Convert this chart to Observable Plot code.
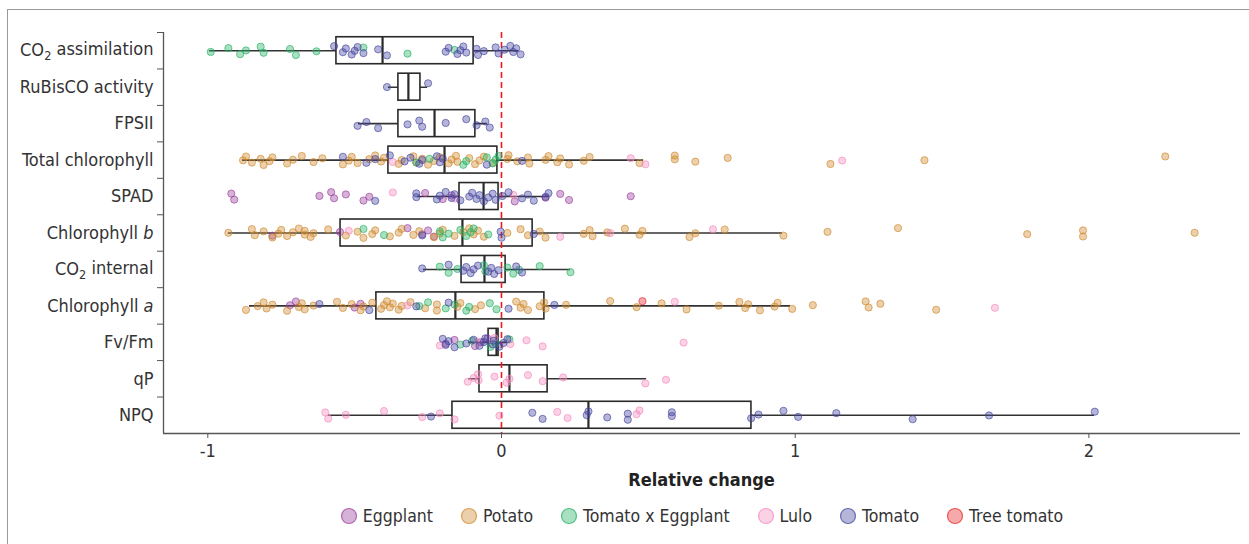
<!DOCTYPE html>
<html><head><meta charset="utf-8">
<script src="https://cdn.jsdelivr.net/npm/d3@7"></script>
<script src="https://cdn.jsdelivr.net/npm/@observablehq/plot@0.6"></script>
<style>
body{margin:0;background:#fff;font-family:"Liberation Sans Narrow","DejaVu Sans Condensed","Roboto",sans-serif;color:#333;}
#frame{position:absolute;left:7px;top:9px;width:1300px;height:600px;border-left:1.5px solid #9a9a9a;border-top:1.5px solid #9a9a9a;}
#chart{position:absolute;left:0;top:0;}
#xlabel{position:absolute;left:163px;width:1077px;top:469px;text-align:center;font-weight:bold;font-size:18px;color:#222;}
#legend{position:absolute;left:163px;width:1077px;top:506px;display:flex;justify-content:center;gap:27px;font-size:17.5px;color:#333;}
.item{display:flex;align-items:center;}
.item svg{margin-right:5px;}
</style></head><body>
<div id="frame"></div>
<div id="chart"></div>
<div id="xlabel">Relative change</div>
<div id="legend"></div>
<script>
const categories = ["CO2 assimilation","RuBisCO activity","FPSII","Total chlorophyll","SPAD","Chlorophyll b","CO2 internal","Chlorophyll a","Fv/Fm","qP","NPQ"];
const species = ["Eggplant","Potato","Tomato x Eggplant","Lulo","Tomato","Tree tomato"];
const speciesColors = ["#9b3f9e","#d0892c","#25b265","#f48bbf","#45459f","#e8282c"];

const co2Assimilation = {
  "Tomato x Eggplant": [-0.99,-0.93,-0.89,-0.87,-0.82,-0.81,-0.72,-0.70,-0.63,-0.47,-0.32,-0.16],
  "Tomato": [-0.57,-0.54,-0.53,-0.51,-0.50,-0.49,-0.47,-0.42,-0.39,-0.19,-0.18,-0.15,-0.14,-0.13,-0.12,-0.085,-0.08,-0.06,-0.02,-0.01,0.01,0.03,0.04,0.05,0.065]
};
const rubiscoActivity = { "Tomato": [-0.39,-0.25] };
const fpsii = { "Tomato": [-0.49,-0.46,-0.42,-0.32,-0.28,-0.27,-0.19,-0.12,-0.085,-0.055,-0.04] };
const totalChlorophyll = {
  "Potato": [-0.88,-0.87,-0.85,-0.82,-0.81,-0.79,-0.78,-0.73,-0.71,-0.68,-0.64,-0.61,-0.54,-0.52,-0.51,-0.49,-0.45,-0.43,-0.41,-0.40,-0.35,-0.34,-0.30,-0.29,-0.27,-0.25,-0.23,-0.21,-0.18,-0.17,-0.155,-0.15,-0.11,-0.09,-0.075,-0.06,-0.03,0.02,0.024,0.054,0.09,0.095,0.15,0.16,0.19,0.20,0.23,0.28,0.30,0.47,0.59,0.59,0.66,0.77,1.12,1.44,2.26],
  "Tomato": [-0.54,-0.46,-0.43,-0.38,-0.33,-0.31,-0.28,-0.27,-0.22,-0.21,-0.20,-0.05,0.07],
  "Tomato x Eggplant": [-0.29,-0.245,-0.13,-0.12,-0.05,-0.03,-0.02,-0.01],
  "Lulo": [-0.37,0.44,0.49,1.16]
};
const spad = {
  "Eggplant": [-0.92,-0.91,-0.62,-0.58,-0.57,-0.53,-0.47,-0.45,-0.26,-0.20,-0.17,0.045,0.15,0.20,0.23,0.44],
  "Tomato": [-0.43,-0.29,-0.29,-0.22,-0.21,-0.19,-0.17,-0.16,-0.14,-0.11,-0.10,-0.085,-0.075,-0.06,-0.045,-0.03,-0.02,0.003,0.024,0.07,0.09,0.11,0.15,0.16],
  "Lulo": [-0.37,-0.16,0.04]
};
const chlorophyllB = {
  "Potato": [-0.93,-0.85,-0.84,-0.81,-0.78,-0.76,-0.75,-0.73,-0.71,-0.69,-0.67,-0.67,-0.65,-0.64,-0.59,-0.53,-0.49,-0.47,-0.44,-0.43,-0.38,-0.35,-0.34,-0.30,-0.28,-0.23,-0.21,-0.20,-0.16,-0.13,-0.11,-0.095,-0.08,-0.06,0.02,0.065,0.09,0.13,0.15,0.28,0.30,0.31,0.36,0.42,0.47,0.48,0.64,0.66,0.76,0.96,1.11,1.35,1.79,1.98,1.98,2.36],
  "Eggplant": [-0.78,-0.55,-0.32,-0.27,-0.25,-0.23],
  "Lulo": [-0.52,0.20,0.37,0.72],
  "Tomato x Eggplant": [-0.47,-0.40,-0.21,-0.20,-0.18,-0.14,-0.12,-0.105,-0.095,-0.045],
  "Tomato": [-0.27,-0.003,0.0,0.11]
};
const co2Internal = {
  "Tomato": [-0.27,-0.18,-0.13,-0.12,-0.105,-0.095,-0.08,-0.045,-0.035,-0.025,-0.01,0.05,0.07],
  "Tomato x Eggplant": [-0.21,-0.18,-0.15,-0.06,-0.055,0.02,0.04,0.06,0.13,0.235]
};
const chlorophyllA = {
  "Potato": [-0.87,-0.83,-0.81,-0.80,-0.78,-0.73,-0.69,-0.68,-0.67,-0.64,-0.56,-0.54,-0.51,-0.48,-0.47,-0.44,-0.41,-0.40,-0.39,-0.38,-0.37,-0.35,-0.34,-0.31,-0.26,-0.22,-0.22,-0.15,-0.14,-0.09,-0.07,0.05,0.065,0.075,0.09,0.13,0.145,0.15,0.22,0.37,0.46,0.545,0.63,0.74,0.81,0.83,0.84,0.88,0.93,0.94,0.99,1.06,1.24,1.25,1.29,1.48],
  "Eggplant": [-0.72,-0.70,-0.50,-0.48],
  "Tomato": [-0.62,-0.45,-0.29,-0.18,0.024,0.18],
  "Lulo": [-0.32,0.59,1.68],
  "Tomato x Eggplant": [-0.28,-0.25,-0.19,-0.16,-0.12,-0.11,-0.04,-0.017],
  "Tree tomato": [0.48]
};
const fvFm = {
  "Tomato": [-0.20,-0.19,-0.18,-0.16,-0.12,-0.095,-0.075,-0.06,-0.055,-0.03,-0.027,-0.007,0.007,0.02],
  "Eggplant": [-0.19,-0.16,-0.09,-0.07,-0.048],
  "Tomato x Eggplant": [-0.14,-0.10,-0.037,-0.02,0.027],
  "Lulo": [-0.21,-0.08,-0.024,0.03,0.085,0.14,0.62]
};
const qP = { "Lulo": [-0.115,-0.095,-0.08,-0.078,-0.024,0.017,0.027,0.09,0.14,0.21,0.49,0.56] };
const npq = {
  "Lulo": [-0.60,-0.59,-0.53,-0.40,-0.27,-0.21,-0.16,-0.007,0.19,0.225,0.46,0.47],
  "Tomato": [-0.24,0.105,0.14,0.29,0.296,0.36,0.43,0.43,0.58,0.58,0.85,0.875,0.96,1.01,1.14,1.40,1.66,2.02]
};

// box-plot statistics per category
const boxQ1 =        [-0.562,-0.351,-0.351,-0.385,-0.143,-0.548,-0.136,-0.426,-0.044,-0.075,-0.167];
const boxMedian =    [-0.405,-0.317,-0.228,-0.194,-0.061,-0.133,-0.058,-0.157,-0.017, 0.027, 0.296];
const boxQ3 =        [-0.095,-0.276,-0.089,-0.014,-0.010, 0.106, 0.014, 0.146,-0.010, 0.157, 0.851];
const whiskerLow =   [-0.994,-0.385,-0.487,-0.882,-0.286,-0.930,-0.266,-0.858,-0.112,-0.112,-0.589];
const whiskerHigh =  [ 0.058,-0.252,-0.048, 0.484, 0.160, 0.957, 0.235, 0.984, 0.020, 0.494, 2.019];
const xTicks = [-1, 0, 1, 2];

const traitData = [co2Assimilation, rubiscoActivity, fpsii, totalChlorophyll, spad, chlorophyllB, co2Internal, chlorophyllA, fvFm, qP, npq];

// flat table
const points = [];
let k = 0;
traitData.forEach((obj, row) => {
  for (const sp of species) {
    (obj[sp] || []).forEach(v => {
      k++;
      const jitter = ((k * 0.6180339887) % 1) - 0.5; // deterministic vertical jitter
      points.push({row, species: sp, value: v, jy: row + jitter * 0.27});
    });
  }
});
const stats = categories.map((c, i) => ({row: i, q1: boxQ1[i], med: boxMedian[i], q3: boxQ3[i], lo: whiskerLow[i], hi: whiskerHigh[i]}));

const W = 1249, H = 495, mL = 163, mR = 9, mT = 32, mB = 62;
const xDomain = [(163 - 501) / 293.7, (1240 - 501) / 293.7];
const n = categories.length;
const font = '"Liberation Sans Narrow","DejaVu Sans Condensed",sans-serif';

const chart = Plot.plot({
  width: W, height: H,
  marginLeft: mL, marginRight: mR, marginTop: mT, marginBottom: mB,
  style: {fontFamily: font, fontSize: "18px", color: "#333", background: "transparent"},
  x: {domain: xDomain, axis: null},
  y: {domain: [n - 0.5, -0.5], axis: null},
  color: {domain: species, range: speciesColors},
  marks: [
    Plot.ruleY(stats, {y: "row", x1: "lo", x2: "hi", stroke: "#333", strokeWidth: 1.6}),
    Plot.rect(stats, {x1: "q1", x2: "q3", y1: d => d.row - 0.37, y2: d => d.row + 0.37, fill: "white", stroke: "#2a2a2a", strokeWidth: 1.6}),
    Plot.ruleX(stats, {x: "med", y1: d => d.row - 0.37, y2: d => d.row + 0.37, stroke: "#2a2a2a", strokeWidth: 2.2}),
    Plot.ruleX([0], {y1: -0.5, y2: n - 0.5, stroke: "#f01820", strokeWidth: 1.6, strokeDasharray: "6,4"}),
    Plot.dot(points, {x: "value", y: "jy", r: 3.6, fill: "species", fillOpacity: 0.4, stroke: "species", strokeOpacity: 0.65, strokeWidth: 1}),
    // axes
    Plot.ruleX([xDomain[0]], {y1: -0.5, y2: n - 0.5, stroke: "#555", strokeWidth: 1.3}),
    Plot.ruleY([n - 0.5], {x1: xDomain[0], x2: xDomain[1], stroke: "#555", strokeWidth: 1.3}),
    Plot.axisY(d3.range(n), {tickSize: 0, tickPadding: 10, tickFormat: i => categories[i], fill: "#333", fontSize: 18}),
    Plot.axisY(d3.range(n).map(i => i - 0.5), {tickSize: 6, tickFormat: () => "", stroke: "#555"}),
    Plot.axisX(xTicks, {tickSize: 5, tickPadding: 6, tickFormat: d => String(d), fill: "#333", fontSize: 18, stroke: "#555", label: null})
  ]
});
document.getElementById("chart").appendChild(chart);

// rich labels: subscripts and italics
d3.select(chart).selectAll("text").each(function() {
  const t = this.textContent;
  const sel = d3.select(this);
  if (t === "CO2 assimilation" || t === "CO2 internal") {
    sel.text(null);
    sel.append("tspan").text("CO");
    sel.append("tspan").attr("font-size", "70%").attr("dy", "0.3em").text("2");
    sel.append("tspan").attr("dy", "-0.3em").text(t.slice(3));
  } else if (t === "Chlorophyll b" || t === "Chlorophyll a") {
    sel.text(null);
    sel.append("tspan").text("Chlorophyll ");
    sel.append("tspan").attr("font-style", "italic").text(t.slice(-1));
  }
});

// legend
const legend = d3.select("#legend");
species.forEach((s, i) => {
  const it = legend.append("div").attr("class", "item");
  const sv = it.append("svg").attr("width", 18).attr("height", 18);
  sv.append("circle").attr("cx", 9).attr("cy", 9).attr("r", 7.5)
    .attr("fill", speciesColors[i]).attr("fill-opacity", 0.4)
    .attr("stroke", speciesColors[i]).attr("stroke-opacity", 0.75).attr("stroke-width", 1.2);
  it.append("span").text(s);
});
</script>
</body></html>
